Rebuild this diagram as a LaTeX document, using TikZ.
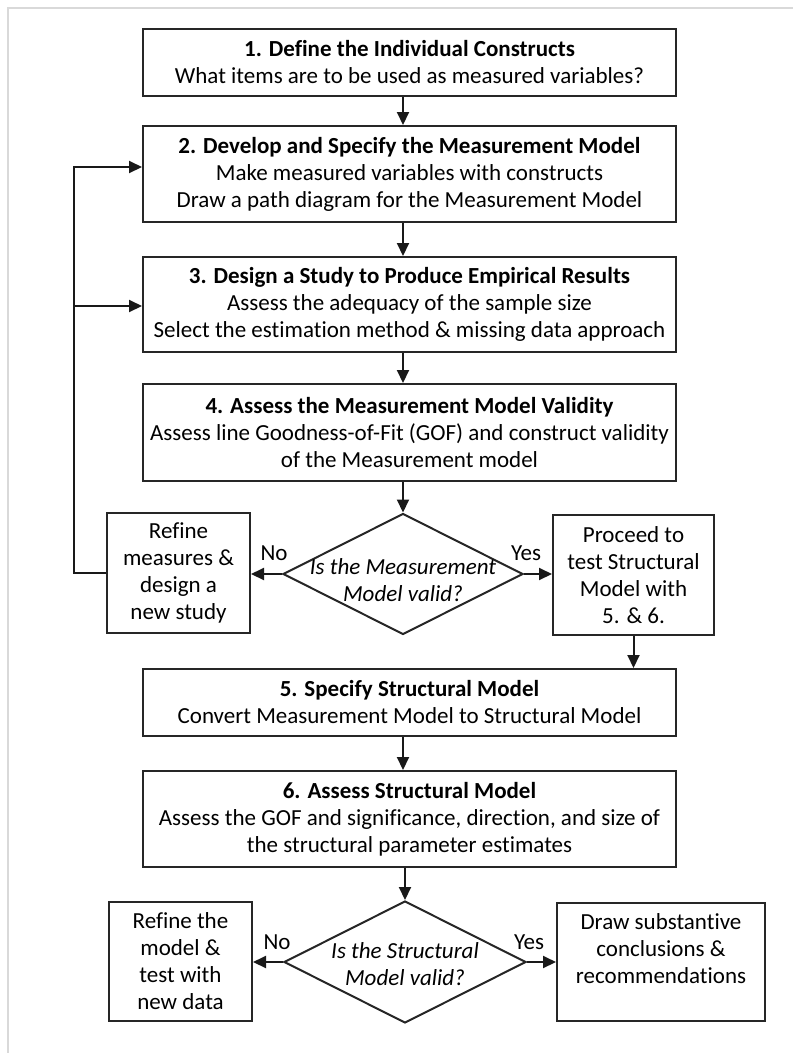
\documentclass[tikz,border=0pt]{standalone}
\usepackage{fontspec}
\setmainfont{Carlito}[Ligatures=NoCommon]
\usetikzlibrary{shapes.geometric,arrows.meta}
\begin{document}
\begin{tikzpicture}[x=1pt,y=-1pt,
  stepbox/.style={draw=black!85,line width=2pt,fill=white,align=center,inner sep=0pt,
    font=\fontsize{23}{27}\selectfont},
  wide/.style={stepbox,minimum width=533pt},
  side/.style={stepbox,minimum height=120pt},
  decision/.style={diamond,draw=black!85,line width=2pt,fill=white,inner sep=0pt},
  question/.style={align=center,inner sep=0pt,font=\fontsize{23}{27}\selectfont\itshape},
  tag/.style={inner sep=0pt,font=\fontsize{23}{27}\selectfont},
  flow/.style={draw=black!90,line width=2pt,-{Triangle[length=13pt,width=12pt]}},
  frame/.style={draw=black!15,line width=1.5pt}]

\useasboundingbox (0,0) rectangle (793,1053);
\draw[frame] (8,1053) -- (8,8) -- (793,8);

% main column of steps
\node[wide,minimum height=67pt] (b1) at (409.5,62.5)
  {\textbf{1. Define the Individual Constructs}\\What items are to be used as measured variables?};
\node[wide,minimum height=96pt] (b2) at (409.5,174)
  {\textbf{2. Develop and Specify the Measurement Model}\\Make measured variables with constructs\\Draw a path diagram for the Measurement Model};
\node[wide,minimum height=95pt] (b3) at (409.5,304.5)
  {\textbf{3. Design a Study to Produce Empirical Results}\\Assess the adequacy of the sample size\\Select the estimation method \& missing data approach};
\node[wide,minimum height=97pt] (b4) at (409.5,432.5)
  {\textbf{4. Assess the Measurement Model Validity}\\Assess line Goodness-of-Fit (GOF) and construct validity\\of the Measurement model};

% first decision
\node[decision,minimum width=240pt,minimum height=121pt] (d1) at (403,574) {};
\node[question] (q1) at (403,580) {Is the Measurement\\Model valid?};
\node[side,minimum width=143pt] (l1) at (178.5,573)
  {Refine\\measures \&\\design a\\new study};
\node[side,minimum width=161pt] (r1) at (633.5,575)
  {Proceed to\\test Structural\\Model with\\5. \& 6.};

\node[wide,minimum height=67pt] (b5) at (409.5,702.5)
  {\textbf{5. Specify Structural Model}\\Convert Measurement Model to Structural Model};
\node[wide,minimum height=96pt] (b6) at (409.5,819)
  {\textbf{6. Assess Structural Model}\\Assess the GOF and significance, direction, and size of\\the structural parameter estimates};

% second decision
\node[decision,minimum width=242pt,minimum height=122pt] (d2) at (405,962) {};
\node[question] (q2) at (405,964) {Is the Structural\\Model valid?};
\node[side,minimum width=143pt,minimum height=119pt] (l2) at (180.5,961.5)
  {Refine the\\model \&\\test with\\new data};
\node[side,minimum width=208pt,minimum height=118pt] (r2) at (661,962)
  {Draw substantive\\conclusions \&\\recommendations\\\mbox{}};

% branch labels
\node[tag] (n1) at (274,553) {No};
\node[tag] (y1) at (526,553) {Yes};
\node[tag] (n2) at (277,942) {No};
\node[tag] (y2) at (529,942) {Yes};

% vertical flow
\coordinate (axis) at (403,0);
\draw[flow] (b1.south -| axis) -- (b2.north -| axis);
\draw[flow] (b2.south -| axis) -- (b3.north -| axis);
\draw[flow] (b3.south -| axis) -- (b4.north -| axis);
\draw[flow] (b4.south -| d1.north) -- (d1.north);
\draw[flow] (d1.west) -- (d1.west -| l1.east);
\draw[flow] (d1.east) -- (d1.east -| r1.west);
\draw[flow] (r1.south) -- (r1.south |- b5.north);
\draw[flow] (b5.south -| axis) -- (b6.north -| axis);
\draw[flow] (b6.south -| d2.north) -- (d2.north);
\draw[flow] (d2.west) -- (d2.west -| l2.east);
\draw[flow] (d2.east) -- (d2.east -| r2.west);

% feedback loop back to steps 2 and 3
\coordinate (fbtop) at (74,167);
\coordinate (fbmid) at (74,306);
\draw[flow] (l1.west) -| (fbtop) -- (fbtop -| b2.west);
\draw[flow] (fbmid) -- (fbmid -| b3.west);
\end{tikzpicture}
\end{document}
